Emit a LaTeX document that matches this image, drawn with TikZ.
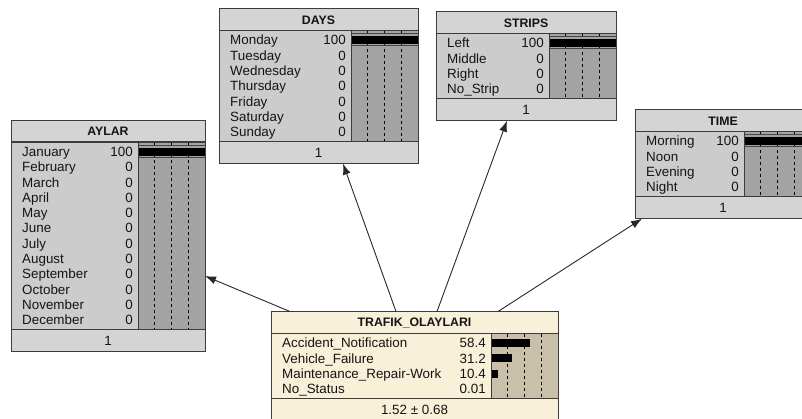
\documentclass[tikz,border=0pt]{standalone}
\usepackage{fontspec}
\setmainfont{Liberation Sans}
\usetikzlibrary{arrows.meta,calc}
\definecolor{gtitle}{RGB}{212,212,212}
\definecolor{gbody}{RGB}{204,204,204}
\definecolor{gbar}{RGB}{163,163,163}
\definecolor{ctitle}{RGB}{248,240,216}
\definecolor{cbody}{RGB}{248,240,216}
\definecolor{cbar}{RGB}{201,192,170}
\definecolor{frame}{RGB}{60,60,60}
\definecolor{ink}{RGB}{20,20,20}
\tikzset{
  boxframe/.style={draw=frame, line width=1pt, inner sep=0pt, outer sep=0pt, rectangle},
  sepline/.style={draw=frame, line width=1.2pt},
  barsep/.style={draw=frame, line width=1pt},
  dashline/.style={draw=black, line width=0.9pt, dash pattern=on 3pt off 3pt},
  hundredline/.style={draw={rgb,255:red,70;green,70;blue,70}, line width=0.9pt},
  titletext/.style={font=\fontsize{12.3}{14}\selectfont\bfseries, text=ink, inner sep=0pt},
  labeltext/.style={font=\fontsize{13.4}{15}\selectfont, text=ink, inner sep=0pt},
  linkarrow/.style={draw={rgb,255:red,40;green,40;blue,40}, line width=0.9pt, -{Latex[length=11pt,width=8pt]}}
}
% #1 name, #2 left, #3 top, #4 width, #5 title, #6 rows, #7 row list, #8 footer, #9 colour prefix
\newcommand\netnode[9]{%
  \pgfmathsetmacro\nL{#2}%
  \pgfmathsetmacro\nT{#3}%
  \pgfmathsetmacro\nR{#2+#4}%
  \pgfmathsetmacro\nTB{#3+22}%
  \pgfmathsetmacro\nBB{#3+22+#6*15.3+4}%
  \pgfmathsetmacro\nFB{\nBB+22}%
  \pgfmathsetmacro\nH{\nFB-#3}%
  \pgfmathsetmacro\nX{\nR-67}%
  \fill[#9title] (\nL,\nT) rectangle (\nR,\nTB);
  \fill[#9body] (\nL,\nTB) rectangle (\nX,\nBB);
  \fill[#9bar] (\nX,\nTB) rectangle (\nR,\nBB);
  \fill[#9title] (\nL,\nBB) rectangle (\nR,\nFB);
  \foreach \f in {0.25,0.5,0.75} {\draw[dashline] ({\nX+67*\f},\nTB) -- ({\nX+67*\f},\nBB);}
  \node[titletext] at ({(\nL+\nR)/2},{\nT+11.5}) {#5};
  \foreach \lab/\val/\pct [count=\i] in {#7} {
    \pgfmathsetmacro\yy{\nTB+2+15.3*(\i-0.5)}
    \node[labeltext, anchor=base west] at (\nL+11,\yy+4.8) {\lab};
    \node[labeltext, anchor=base east] at (\nX-5,\yy+4.8) {\val};
    \ifdim\pct pt>0.5pt
      \fill[black] (\nX,\yy-4) rectangle ({\nX+0.67*\pct},\yy+4);
    \fi
    \ifdim\pct pt>99pt
      \draw[hundredline] (\nX,\yy-6.5) -- (\nR,\yy-6.5);
      \draw[hundredline] (\nX,\yy+5.5) -- (\nR,\yy+5.5);
    \fi
  }
  \draw[sepline] (\nL,\nTB) -- (\nR,\nTB);
  \draw[barsep] (\nL,\nBB) -- (\nR,\nBB);
  \draw[barsep] (\nX,\nTB) -- (\nX,\nBB);
  \node[labeltext] at ({(\nL+\nR)/2},{\nBB+11.5}) {#8};
  \node[boxframe, minimum width=#4, minimum height=\nH, anchor=north west] (#1) at (\nL,\nT) {};
}
\begin{document}
\begin{tikzpicture}[x=1pt,y=-1pt]
\useasboundingbox (0,0) rectangle (802,418);
\clip (0,0) rectangle (802,418);
\netnode{aylar}{11}{120}{194}{AYLAR}{12}{January/100/100, February/0/0, March/0/0, April/0/0, May/0/0, June/0/0, July/0/0, August/0/0, September/0/0, October/0/0, November/0/0, December/0/0}{1}{g}
\netnode{days}{219}{8.5}{199}{DAYS}{7}{Monday/100/100, Tuesday/0/0, Wednesday/0/0, Thursday/0/0, Friday/0/0, Saturday/0/0, Sunday/0/0}{1}{g}
\netnode{strips}{436}{11.5}{180}{STRIPS}{4}{Left/100/100, Middle/0/0, Right/0/0, No\_Strip/0/0}{1}{g}
\netnode{time}{635}{109.5}{176}{TIME}{4}{Morning/100/100, Noon/0/0, Evening/0/0, Night/0/0}{1}{g}
\netnode{trafik}{271}{311.5}{287}{TRAFIK\_OLAYLARI}{4}{Accident\_Notification/58.4/58.4, Vehicle\_Failure/31.2/31.2, Maintenance\_Repair-Work/10.4/10.4, No\_Status/0.01/0.01}{1.52 ± 0.68}{c}
\draw[linkarrow] ($(trafik.north west)+(19,0)$) -- ($(aylar.north east)+(0,156)$);
\draw[linkarrow] ($(trafik.north west)+(125,0)$) -- ($(days.south west)+(124,0)$);
\draw[linkarrow] ($(trafik.north west)+(166,0)$) -- ($(strips.south west)+(71,0)$);
\draw[linkarrow] ($(trafik.north west)+(227,0)$) -- ($(time.south west)+(7,0)$);
\end{tikzpicture}
\end{document}
